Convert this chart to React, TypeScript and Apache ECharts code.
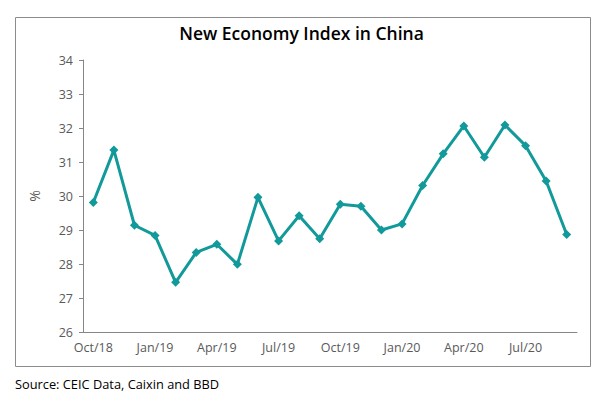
import React, { useEffect, useRef } from "react";
import * as echarts from "echarts";

const categories = [
  "Oct/18", "Nov/18", "Dec/18", "Jan/19", "Feb/19", "Mar/19", "Apr/19", "May/19",
  "Jun/19", "Jul/19", "Aug/19", "Sep/19", "Oct/19", "Nov/19", "Dec/19", "Jan/20",
  "Feb/20", "Mar/20", "Apr/20", "May/20", "Jun/20", "Jul/20", "Aug/20", "Sep/20",
];
const indexValues = [
  29.81, 31.35, 29.14, 28.84, 27.46, 28.34, 28.58, 27.99,
  29.96, 28.68, 29.42, 28.74, 29.76, 29.7, 29.0, 29.18,
  30.31, 31.24, 32.06, 31.14, 32.09, 31.48, 30.44, 28.87,
];
const titleText = "New Economy Index in China";
const sourceText = "Source: CEIC Data, Caixin and BBD";
const yAxisName = "%";

export default function App() {
  const ref = useRef<HTMLDivElement>(null);
  useEffect(() => {
    if (!ref.current) return;
    const chart = echarts.init(ref.current, null, { renderer: "svg" });
    const font = "'Open Sans', 'Liberation Sans', sans-serif";
    chart.setOption({
      animation: false,
      backgroundColor: "#ffffff",
      title: {
        text: titleText,
        left: "center",
        top: 19,
        textStyle: { fontFamily: font, fontSize: 17.5, fontWeight: 600, color: "#000000" },
      },
      graphic: [
        {
          type: "rect",
          shape: { x: 15.5, y: 17.5, width: 575, height: 349 },
          style: { fill: "none", stroke: "#8c8c8c", lineWidth: 1 },
          silent: true,
        },
        {
          type: "text",
          left: 15,
          top: 377,
          style: { text: sourceText, fontFamily: font, fontSize: 12.8, fill: "#000000" },
        },
      ],
      grid: { left: 83, right: 26, top: 60, bottom: 67 },
      xAxis: {
        type: "category",
        data: categories,
        boundaryGap: true,
        axisLine: { lineStyle: { color: "#868686", width: 1 } },
        axisTick: { interval: 2, length: 4, lineStyle: { color: "#868686" } },
        axisLabel: { interval: 2, color: "#595959", fontFamily: font, fontSize: 12.5, margin: 9 },
        splitLine: { show: false },
      },
      yAxis: {
        type: "value",
        min: 26,
        max: 34,
        interval: 1,
        name: yAxisName,
        nameLocation: "middle",
        nameGap: 42,
        nameRotate: 90,
        nameTextStyle: { color: "#595959", fontFamily: font, fontSize: 14 },
        axisLine: { show: true, lineStyle: { color: "#868686", width: 1 } },
        axisTick: { show: true, length: 4, lineStyle: { color: "#868686" } },
        axisLabel: { color: "#595959", fontFamily: font, fontSize: 12.5, margin: 10 },
        splitLine: { show: false },
      },
      series: [
        {
          type: "line",
          data: indexValues,
          symbol: "diamond",
          symbolSize: 9,
          lineStyle: { color: "#12999a", width: 3 },
          itemStyle: { color: "#12999a" },
        },
      ],
    });
    return () => chart.dispose();
  }, []);
  return (
    <div
      ref={ref}
      style={{ position: "fixed", left: 0, top: 0, width: 603, height: 399 }}
    />
  );
}
